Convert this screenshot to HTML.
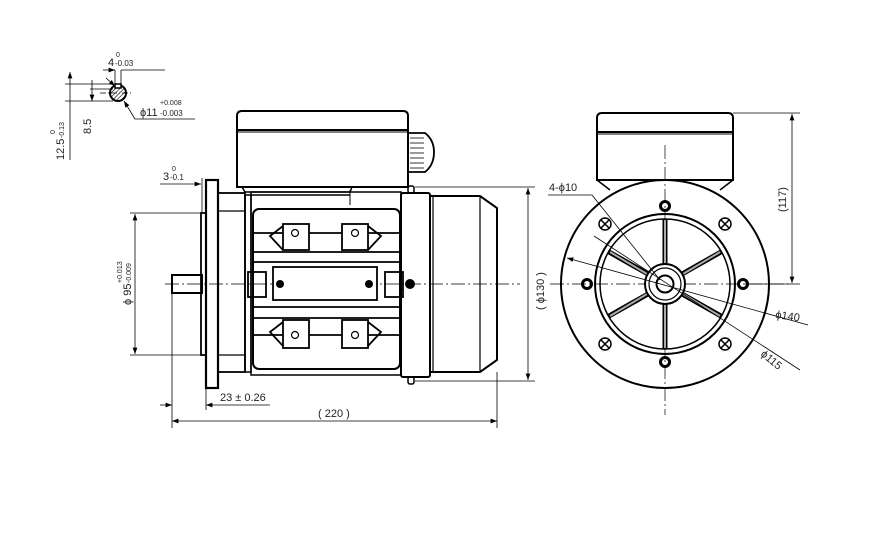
<!DOCTYPE html>
<html><head><meta charset="utf-8"><style>
html,body{margin:0;padding:0;background:#fff}
svg{display:block}
text{font-family:"Liberation Sans Narrow","Liberation Sans",sans-serif;fill:#222}
</style></head><body>
<svg width="882" height="548" viewBox="0 0 882 548" xmlns="http://www.w3.org/2000/svg">
<defs>
<marker id="a" markerWidth="8" markerHeight="6" refX="8" refY="3" orient="auto"><path d="M0,0 L8,3 L0,6 z" fill="#000"/></marker>
<marker id="b" markerWidth="8" markerHeight="6" refX="0" refY="3" orient="auto"><path d="M8,0 L0,3 L8,6 z" fill="#000"/></marker>
<pattern id="h" width="3" height="3" patternUnits="userSpaceOnUse" patternTransform="rotate(45)"><line x1="0" y1="0" x2="0" y2="3" stroke="#000" stroke-width="1.2"/></pattern>
</defs>
<g fill="none" stroke="#000">
<!-- keyway detail -->
<circle cx="118" cy="93" r="8" fill="url(#h)" stroke-width="2"/>
<rect x="115" y="84" width="6" height="4" fill="#fff" stroke-width="1.5"/>
<g stroke-width="0.8">
<line x1="65" y1="84" x2="113" y2="84"/><line x1="65" y1="101" x2="113" y2="101"/>
<line x1="90" y1="89" x2="113" y2="89"/>
<line x1="70" y1="72" x2="70" y2="160" marker-start="url(#b)"/>
<line x1="92" y1="80" x2="92" y2="101" marker-end="url(#a)"/>
<line x1="115" y1="70" x2="115" y2="84"/><line x1="121" y1="70" x2="121" y2="84"/>
<line x1="103" y1="70" x2="115" y2="70" marker-end="url(#a)"/><line x1="121" y1="70" x2="165" y2="70"/>
<line x1="106" y1="78" x2="115" y2="86" marker-end="url(#a)"/>
<line x1="135" y1="119" x2="124" y2="101" marker-end="url(#a)"/><line x1="135" y1="119" x2="195" y2="119"/>
<line x1="100" y1="93" x2="132" y2="93" stroke-dasharray="6 2 1 2"/>
</g>
<!-- centre line side -->
<line x1="165" y1="284" x2="520" y2="284" stroke-width="0.7" stroke-dasharray="14 3 2 3"/>
<!-- shaft -->
<rect x="172" y="275" width="30" height="18" stroke-width="2"/>
<!-- spigot + flange -->
<rect x="201" y="213" width="5" height="142" stroke-width="1.8"/>
<rect x="206" y="180" width="12" height="208" stroke-width="2.2"/>
<rect x="218" y="193" width="27" height="179" stroke-width="1.8"/>
<line x1="218" y1="211" x2="245" y2="211" stroke-width="1.2"/><line x1="218" y1="355" x2="245" y2="355" stroke-width="1.2"/>
<rect x="245" y="195" width="6" height="177" stroke-width="1.5"/>
<!-- stator -->
<rect x="251" y="192" width="150" height="183" stroke-width="1.5"/>
<rect x="253" y="209" width="147" height="160" rx="6" stroke-width="2"/>
<line x1="251" y1="195" x2="350" y2="195" stroke-width="1.4"/><line x1="350" y1="190" x2="350" y2="205"/>
<g stroke-width="1.8">
<line x1="253" y1="233" x2="400" y2="233"/><line x1="253" y1="252" x2="400" y2="252"/>
<line x1="253" y1="262" x2="400" y2="262"/>
<line x1="253" y1="307" x2="400" y2="307"/>
<line x1="253" y1="318" x2="400" y2="318"/><line x1="253" y1="335" x2="400" y2="335"/>
<rect x="273" y="267" width="104" height="33" fill="#fff"/>
<rect x="283" y="224" width="26" height="26" fill="#fff"/><rect x="342" y="224" width="26" height="26" fill="#fff"/>
<rect x="283" y="320" width="26" height="28" fill="#fff"/><rect x="342" y="320" width="26" height="28" fill="#fff"/>
<path d="M283,226 L270,236 L283,250 M368,226 L381,236 L368,250 M283,322 L270,332 L283,346 M368,322 L381,332 L368,346"/>
<rect x="248" y="272" width="18" height="25"/><rect x="385" y="272" width="18" height="25"/>
</g>
<g stroke-width="1.2">
<circle cx="295" cy="233" r="3.5"/><circle cx="355" cy="233" r="3.5"/>
<circle cx="295" cy="335" r="3.5"/><circle cx="355" cy="335" r="3.5"/>
</g>
<g fill="#000" stroke="none"><circle cx="280" cy="284" r="4"/><circle cx="369" cy="284" r="4"/><circle cx="410" cy="284" r="5"/></g>
<!-- terminal box -->
<path d="M237,130 L237,116 Q237,111 242,111 L403,111 Q408,111 408,116 L408,130" stroke-width="2"/>
<rect x="237" y="130" width="171" height="57" stroke-width="2"/>
<line x1="237" y1="132" x2="408" y2="132" stroke-width="1"/>
<path d="M242,187 L245,192 L350,192 L352,187" stroke-width="1.5"/>
<path d="M408,133 L425,133 Q434,140 434,152 Q434,165 425,172 L408,172" stroke-width="1.8"/>
<g stroke-width="0.8"><line x1="410" y1="138" x2="424" y2="138"/><line x1="410" y1="143" x2="424" y2="143"/><line x1="410" y1="148" x2="424" y2="148"/><line x1="410" y1="153" x2="424" y2="153"/><line x1="410" y1="158" x2="424" y2="158"/><line x1="410" y1="163" x2="424" y2="163"/><line x1="410" y1="168" x2="424" y2="168"/></g>
<!-- end bell + fan cover -->
<rect x="401" y="193" width="29" height="184" rx="2" stroke-width="2"/>
<rect x="408" y="186" width="6" height="7" rx="2" stroke-width="1.5"/><rect x="408" y="377" width="6" height="7" rx="2" stroke-width="1.5"/>
<path d="M430,196 L480,196 L497,208 L497,360 L480,372 L430,372" stroke-width="2"/>
<line x1="433" y1="196" x2="433" y2="372" stroke-width="1.2"/>
<line x1="480" y1="196" x2="480" y2="372" stroke-width="1.2"/>
<!-- side dims -->
<g stroke-width="0.8">
<line x1="415" y1="187" x2="535" y2="187"/><line x1="415" y1="381" x2="535" y2="381"/>
<line x1="528" y1="188" x2="528" y2="380" marker-start="url(#b)" marker-end="url(#a)"/>
<line x1="130" y1="213" x2="201" y2="213"/><line x1="130" y1="355" x2="201" y2="355"/>
<line x1="135" y1="214" x2="135" y2="354" marker-start="url(#b)" marker-end="url(#a)"/>
<line x1="172" y1="293" x2="172" y2="428"/><line x1="206" y1="388" x2="206" y2="410"/><line x1="497" y1="372" x2="497" y2="428"/>
<line x1="160" y1="405" x2="172" y2="405" marker-end="url(#a)"/><line x1="206" y1="405" x2="270" y2="405" marker-start="url(#b)"/>
<line x1="172" y1="421" x2="497" y2="421" marker-start="url(#b)" marker-end="url(#a)"/>
<line x1="160" y1="184" x2="201" y2="184" marker-end="url(#a)"/><line x1="202" y1="178" x2="202" y2="212"/>
</g>
<!-- front view -->
<line x1="665" y1="145" x2="665" y2="415" stroke-width="0.7" stroke-dasharray="14 3 2 3"/>
<line x1="550" y1="284" x2="790" y2="284" stroke-width="0.7" stroke-dasharray="14 3 2 3"/>
<path d="M597,132 L597,118 Q597,113 602,113 L728,113 Q733,113 733,118 L733,132" stroke-width="2"/>
<rect x="597" y="132" width="136" height="48" stroke-width="2"/>
<line x1="597" y1="134" x2="733" y2="134" stroke-width="1"/>
<path d="M597,180 L610,190 M733,180 L720,190" stroke-width="1.5"/>
<circle cx="665" cy="284" r="104" stroke-width="2" fill="#fff" fill-opacity="0"/>
<circle cx="665" cy="284" r="70" stroke-width="2"/>
<circle cx="665" cy="284" r="65" stroke-width="1.5"/>
<g stroke="#000" stroke-width="5"><line x1="665" y1="219" x2="665" y2="264"/><line x1="665" y1="304" x2="665" y2="349"/>
<line x1="609" y1="252" x2="648" y2="274"/><line x1="721" y1="252" x2="682" y2="274"/><line x1="609" y1="316" x2="648" y2="294"/><line x1="721" y1="316" x2="682" y2="294"/></g>
<g stroke="#aaa" stroke-width="2"><line x1="665" y1="220" x2="665" y2="263"/><line x1="665" y1="305" x2="665" y2="348"/>
<line x1="610" y1="252" x2="647" y2="274"/><line x1="720" y1="252" x2="683" y2="274"/><line x1="610" y1="316" x2="647" y2="294"/><line x1="720" y1="316" x2="683" y2="294"/></g>
<circle cx="665" cy="284" r="20" stroke-width="2" fill="#fff"/>
<circle cx="665" cy="284" r="16" stroke-width="1.2"/>
<circle cx="665" cy="284" r="8.5" stroke-width="2"/>
<g stroke-width="3"><circle cx="665" cy="206" r="4.5"/><circle cx="665" cy="362" r="4.5"/><circle cx="587" cy="284" r="4.5"/><circle cx="743" cy="284" r="4.5"/></g>
<g stroke-width="1.5">
<circle cx="605" cy="224" r="6"/><circle cx="725" cy="224" r="6"/><circle cx="605" cy="344" r="6"/><circle cx="725" cy="344" r="6"/>
<path d="M601,220 l8,8 M609,220 l-8,8 M721,220 l8,8 M729,220 l-8,8 M601,340 l8,8 M609,340 l-8,8 M721,340 l8,8 M729,340 l-8,8"/>
</g>
<g stroke-width="0.8">
<line x1="548" y1="195" x2="592" y2="195"/><line x1="592" y1="195" x2="660" y2="280"/>
<line x1="567" y1="258" x2="808" y2="325" marker-start="url(#b)"/>
<line x1="594" y1="236" x2="800" y2="370"/>
<line x1="733" y1="113" x2="800" y2="113"/><line x1="745" y1="284" x2="800" y2="284"/>
<line x1="792" y1="114" x2="792" y2="283" marker-start="url(#b)" marker-end="url(#a)"/>
</g>
</g>
<g font-size="11">
<text x="108" y="66">4</text><text x="116" y="57" font-size="7">0</text><text x="115" y="66" font-size="8">-0.03</text>
<text x="140" y="116">ϕ11</text><text x="160" y="105" font-size="7">+0.008</text><text x="160" y="116" font-size="8">-0.003</text>
<text transform="translate(91,134) rotate(-90)">8.5</text>
<text transform="translate(64,160) rotate(-90)">12.5</text><text transform="translate(55,134) rotate(-90)" font-size="7">0</text><text transform="translate(64,138) rotate(-90)" font-size="7">-0.13</text>
<text x="163" y="180">3</text><text x="172" y="171" font-size="7">0</text><text x="170" y="180" font-size="8">-0.1</text>
<text transform="translate(131,305) rotate(-90)">ϕ 95</text><text transform="translate(122,283) rotate(-90)" font-size="7">+0.013</text><text transform="translate(131,283) rotate(-90)" font-size="7">-0.009</text>
<text x="220" y="401">23 ± 0.26</text>
<text x="318" y="417">( 220 )</text>
<text transform="translate(544,310) rotate(-90)">( ϕ130 )</text>
<text x="549" y="191">4-ϕ10</text>
<text x="775" y="318" transform="rotate(8,775,318)">ϕ140</text>
<text x="760" y="355" transform="rotate(40,760,355)">ϕ115</text>
<text transform="translate(786,212) rotate(-90)">(117)</text>
</g>
</svg>
</body></html>
